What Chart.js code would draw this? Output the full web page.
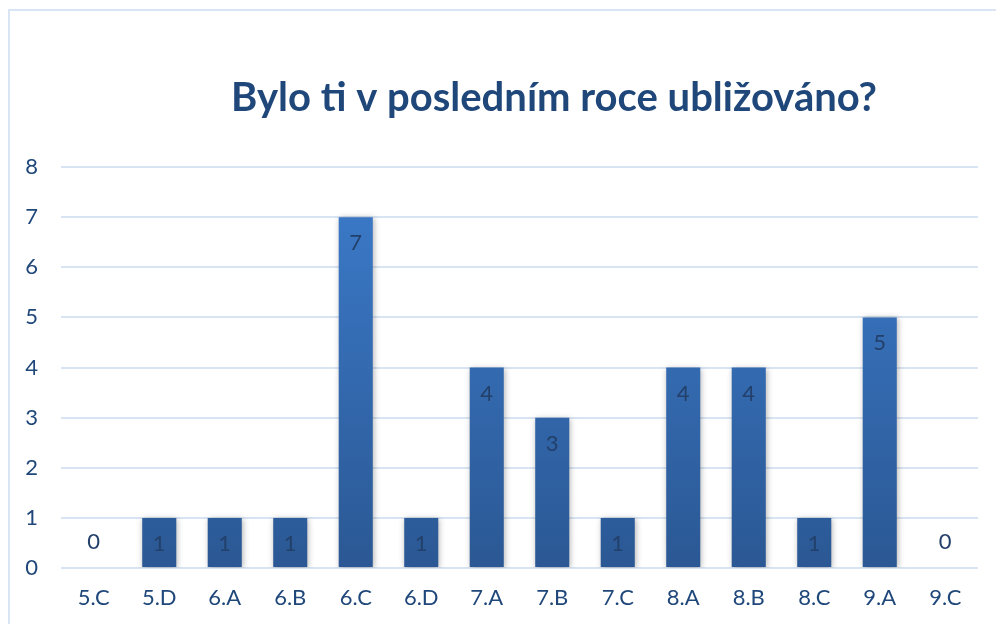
<!DOCTYPE html>
<html>
<head>
<meta charset="utf-8">
<script src="https://cdn.jsdelivr.net/npm/chart.js@4"></script>
<style>
  html, body { margin: 0; padding: 0; background: #fff; overflow: hidden; }
  #frame { position: absolute; left: 8px; top: 9px; width: 1000px; height: 700px; border: 2px solid #dae5f3; }
  #wrap { position: absolute; left: 0; top: 0; width: 996px; height: 624px; }
</style>
</head>
<body>
<div id="frame"></div>
<div id="wrap"><canvas id="chart1" width="996" height="624"></canvas></div>
<script>
// Data z grafu
const tridy = ['5.C', '5.D', '6.A', '6.B', '6.C', '6.D', '7.A', '7.B', '7.C', '8.A', '8.B', '8.C', '9.A', '9.C'];
const pocty = [0, 1, 1, 1, 7, 1, 4, 3, 1, 4, 4, 1, 5, 0];
const titulek = 'Bylo ti v posledním roce ubližováno?';

const tmavaModra = '#1f477a';

// Titulek a popisky hodnot
const popiskyPlugin = {
    id: 'popisky',
    afterDatasetsDraw(chart) {
        const ctx = chart.ctx;
        const meta = chart.getDatasetMeta(0);
        const yScale = chart.scales.y;
        ctx.save();
        ctx.font = '22px Lato';
        ctx.fillStyle = '#22406a';
        ctx.textAlign = 'center';
        ctx.textBaseline = 'middle';
        meta.data.forEach((bar, i) => {
            const v = pocty[i];
            const y = v > 0 ? bar.y + 26 : yScale.getPixelForValue(0) - 26;
            ctx.fillText(String(v), bar.x, y);
        });
        ctx.restore();
    },
    afterDraw(chart) {
        const ctx = chart.ctx;
        ctx.save();
        ctx.font = 'bold 40px Lato';
        ctx.fillStyle = tmavaModra;
        ctx.textAlign = 'center';
        ctx.textBaseline = 'alphabetic';
        ctx.fillText(titulek, 554, 111);
        ctx.restore();
    }
};

// Stín pod sloupci
const stinPlugin = {
    id: 'stin',
    beforeDatasetsDraw(chart) {
        chart.ctx.save();
        chart.ctx.shadowColor = 'rgba(0,0,0,0.3)';
        chart.ctx.shadowBlur = 6;
        chart.ctx.shadowOffsetX = 1;
        chart.ctx.shadowOffsetY = 1;
    },
    afterDatasetsDraw(chart) {
        chart.ctx.restore();
    }
};

const ctx1 = document.getElementById('chart1').getContext('2d');
const chart1 = new Chart(ctx1, {
    type: 'bar',
    data: {
        labels: tridy,
        datasets: [{
            label: titulek,
            data: pocty,
            backgroundColor: (c) => {
                const area = c.chart.chartArea;
                if (!area) return '#3470b8';
                const g = c.chart.ctx.createLinearGradient(0, area.top, 0, area.bottom);
                g.addColorStop(0, '#3c7ccc');
                g.addColorStop(1, '#2b5894');
                return g;
            },
            borderWidth: 0,
            barPercentage: 0.52,
            categoryPercentage: 1
        }]
    },
    options: {
        responsive: false,
        animation: false,
        layout: { padding: { top: 167, right: 18, left: 0, bottom: 0 } },
        plugins: {
            legend: { display: false },
            title: { display: false },
            tooltip: { enabled: false }
        },
        scales: {
            x: {
                grid: { display: false, drawTicks: false },
                border: { display: false },
                ticks: { color: tmavaModra, font: { family: 'Lato', size: 22 }, padding: 17 },
                afterFit(s) { s.height = 56; }
            },
            y: {
                min: 0,
                max: 8,
                grid: { color: '#d9e4f2', lineWidth: 2, drawTicks: false },
                border: { display: false },
                ticks: { stepSize: 1, color: tmavaModra, font: { family: 'Lato', size: 22 }, padding: 23 },
                afterFit(s) { s.width = 61; }
            }
        }
    },
    plugins: [stinPlugin, popiskyPlugin]
});
</script>
</body>
</html>
